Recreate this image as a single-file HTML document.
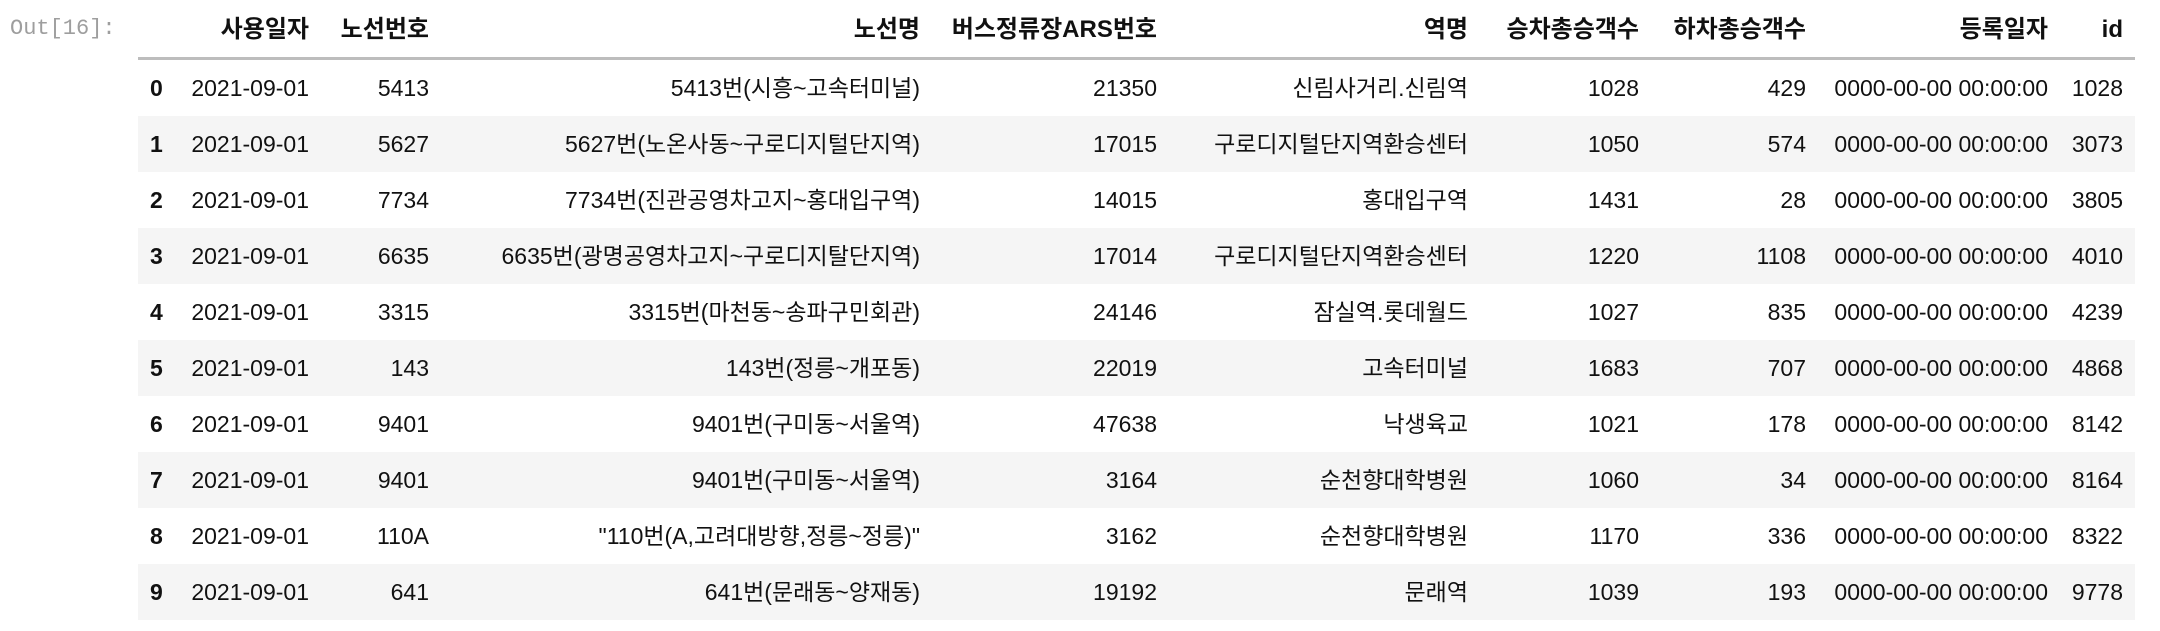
<!DOCTYPE html>
<html><head><meta charset="utf-8">
<style>
html,body{margin:0;padding:0;background:#fff;}
#page{position:relative;width:2160px;height:631px;overflow:hidden;font-family:"Liberation Sans","Noto Sans CJK KR",sans-serif;font-size:23px;color:#111;}
.prompt{position:absolute;left:10px;top:16px;font-family:"Liberation Mono",monospace;font-size:22px;color:#9e9e9e;}
.hline{position:absolute;left:138px;width:1997px;top:57px;height:3px;background:#bdbdbd;}
.row{position:absolute;left:138px;width:1997px;height:56px;}
.row.s{background:#f5f5f5;}
.c{position:absolute;top:0;line-height:56px;white-space:nowrap;}
.hdr .c{font-weight:bold;line-height:60px;font-size:24px;}
.idx{left:12px;font-weight:bold;}
.r1{right:calc(1997px - 171px);}
.r2{right:calc(1997px - 291px);}
.r3{right:calc(1997px - 782px);}
.r4{right:calc(1997px - 1019px);}
.r5{right:calc(1997px - 1330px);}
.r6{right:calc(1997px - 1501px);}
.r7{right:calc(1997px - 1668px);}
.r8{right:calc(1997px - 1910px);}
.r9{right:calc(1997px - 1985px);}
</style></head>
<body>
<div id="page">
<div class="prompt">Out[16]:</div>
<div class="row hdr" style="top:0">
<span class="c r1">사용일자</span>
<span class="c r2">노선번호</span>
<span class="c r3">노선명</span>
<span class="c r4">버스정류장ARS번호</span>
<span class="c r5">역명</span>
<span class="c r6">승차총승객수</span>
<span class="c r7">하차총승객수</span>
<span class="c r8">등록일자</span>
<span class="c r9">id</span>
</div>
<div class="hline"></div>

<div class="row" style="top:60px"><span class="c idx">0</span><span class="c r1">2021-09-01</span><span class="c r2">5413</span><span class="c r3">5413번(시흥~고속터미널)</span><span class="c r4">21350</span><span class="c r5">신림사거리.신림역</span><span class="c r6">1028</span><span class="c r7">429</span><span class="c r8">0000-00-00 00:00:00</span><span class="c r9">1028</span></div>
<div class="row s" style="top:116px"><span class="c idx">1</span><span class="c r1">2021-09-01</span><span class="c r2">5627</span><span class="c r3">5627번(노온사동~구로디지털단지역)</span><span class="c r4">17015</span><span class="c r5">구로디지털단지역환승센터</span><span class="c r6">1050</span><span class="c r7">574</span><span class="c r8">0000-00-00 00:00:00</span><span class="c r9">3073</span></div>
<div class="row" style="top:172px"><span class="c idx">2</span><span class="c r1">2021-09-01</span><span class="c r2">7734</span><span class="c r3">7734번(진관공영차고지~홍대입구역)</span><span class="c r4">14015</span><span class="c r5">홍대입구역</span><span class="c r6">1431</span><span class="c r7">28</span><span class="c r8">0000-00-00 00:00:00</span><span class="c r9">3805</span></div>
<div class="row s" style="top:228px"><span class="c idx">3</span><span class="c r1">2021-09-01</span><span class="c r2">6635</span><span class="c r3">6635번(광명공영차고지~구로디지탈단지역)</span><span class="c r4">17014</span><span class="c r5">구로디지털단지역환승센터</span><span class="c r6">1220</span><span class="c r7">1108</span><span class="c r8">0000-00-00 00:00:00</span><span class="c r9">4010</span></div>
<div class="row" style="top:284px"><span class="c idx">4</span><span class="c r1">2021-09-01</span><span class="c r2">3315</span><span class="c r3">3315번(마천동~송파구민회관)</span><span class="c r4">24146</span><span class="c r5">잠실역.롯데월드</span><span class="c r6">1027</span><span class="c r7">835</span><span class="c r8">0000-00-00 00:00:00</span><span class="c r9">4239</span></div>
<div class="row s" style="top:340px"><span class="c idx">5</span><span class="c r1">2021-09-01</span><span class="c r2">143</span><span class="c r3">143번(정릉~개포동)</span><span class="c r4">22019</span><span class="c r5">고속터미널</span><span class="c r6">1683</span><span class="c r7">707</span><span class="c r8">0000-00-00 00:00:00</span><span class="c r9">4868</span></div>
<div class="row" style="top:396px"><span class="c idx">6</span><span class="c r1">2021-09-01</span><span class="c r2">9401</span><span class="c r3">9401번(구미동~서울역)</span><span class="c r4">47638</span><span class="c r5">낙생육교</span><span class="c r6">1021</span><span class="c r7">178</span><span class="c r8">0000-00-00 00:00:00</span><span class="c r9">8142</span></div>
<div class="row s" style="top:452px"><span class="c idx">7</span><span class="c r1">2021-09-01</span><span class="c r2">9401</span><span class="c r3">9401번(구미동~서울역)</span><span class="c r4">3164</span><span class="c r5">순천향대학병원</span><span class="c r6">1060</span><span class="c r7">34</span><span class="c r8">0000-00-00 00:00:00</span><span class="c r9">8164</span></div>
<div class="row" style="top:508px"><span class="c idx">8</span><span class="c r1">2021-09-01</span><span class="c r2">110A</span><span class="c r3">"110번(A,고려대방향,정릉~정릉)"</span><span class="c r4">3162</span><span class="c r5">순천향대학병원</span><span class="c r6">1170</span><span class="c r7">336</span><span class="c r8">0000-00-00 00:00:00</span><span class="c r9">8322</span></div>
<div class="row s" style="top:564px"><span class="c idx">9</span><span class="c r1">2021-09-01</span><span class="c r2">641</span><span class="c r3">641번(문래동~양재동)</span><span class="c r4">19192</span><span class="c r5">문래역</span><span class="c r6">1039</span><span class="c r7">193</span><span class="c r8">0000-00-00 00:00:00</span><span class="c r9">9778</span></div>
</div>
</body></html>
